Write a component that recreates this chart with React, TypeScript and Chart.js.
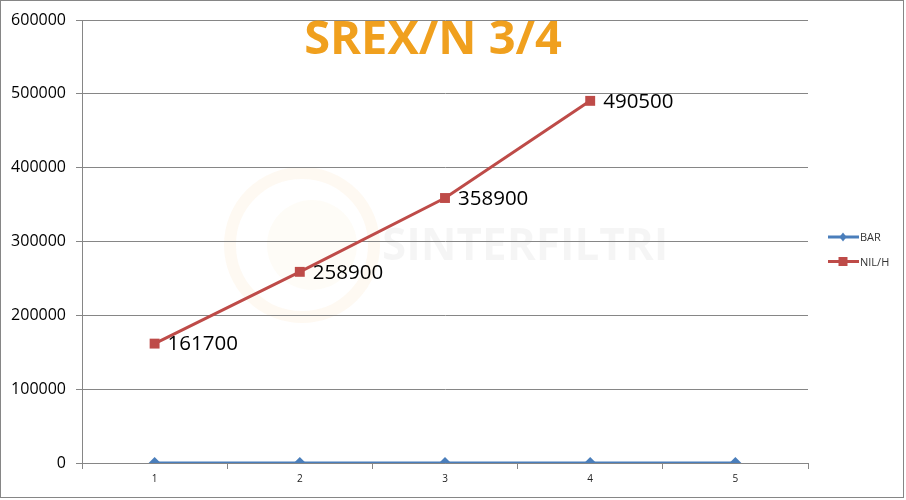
import React, { useEffect, useRef } from 'react';
import { Chart, registerables } from 'chart.js';

Chart.register(...registerables);

const categories = ['1', '2', '3', '4', '5'];
const barValues = [0, 0, 0, 0, 0];
const nilhValues: (number | null)[] = [161700, 258900, 358900, 490500, null];
const seriesNames = ['BAR', 'NIL/H'];
const chartTitle = 'SREX/N 3/4';
const watermarkText = 'SINTERFILTRI';
const yMin = 0;
const yMax = 600000;
const yStep = 100000;

const BLUE = '#4A7EBB';
const RED = '#BE4B48';
const GRID = '#868686';
const FONT = '"Open Sans", "DejaVu Sans", sans-serif';

const overlayPlugin = {
  id: 'overlay',
  beforeDraw(chart: any) {
    const { ctx, chartArea } = chart;
    ctx.save();
    ctx.fillStyle = '#ffffff';
    ctx.fillRect(0, 0, chart.width, chart.height);
    // faint watermark
    const cx = chartArea.left + 220;
    const cy = chartArea.top + 225;
    ctx.strokeStyle = 'rgba(240,160,30,0.06)';
    ctx.lineWidth = 12;
    ctx.beginPath();
    ctx.arc(cx, cy, 72, 0, Math.PI * 2);
    ctx.stroke();
    ctx.fillStyle = 'rgba(240,160,30,0.035)';
    ctx.beginPath();
    ctx.arc(cx + 10, cy, 45, 0, Math.PI * 2);
    ctx.fill();
    ctx.fillStyle = 'rgba(0,0,0,0.04)';
    ctx.font = `bold 44px ${FONT}`;
    ctx.textAlign = 'left';
    ctx.textBaseline = 'middle';
    ctx.fillText(watermarkText, cx + 80, cy + 2);
    ctx.restore();
  },
  afterDatasetsDraw(chart: any) {
    const { ctx, chartArea } = chart;
    ctx.save();
    // data labels for NIL/H
    const meta = chart.getDatasetMeta(1);
    ctx.fillStyle = '#000000';
    ctx.font = `20.5px ${FONT}`;
    ctx.textAlign = 'left';
    ctx.textBaseline = 'middle';
    meta.data.forEach((pt: any, i: number) => {
      const v = nilhValues[i];
      if (v == null) return;
      ctx.fillText(String(v), pt.x + 13, pt.y + 1);
    });
    // title
    ctx.fillStyle = '#F0A01E';
    ctx.font = `bold 47px ${FONT}`;
    ctx.textAlign = 'center';
    ctx.textBaseline = 'middle';
    ctx.fillText(chartTitle, (chartArea.left + chartArea.right) / 2 - 12, 41);
    // legend
    const colors = [BLUE, RED];
    seriesNames.forEach((name, i) => {
      const y = chart.height / 2 - 13 + i * 24.5;
      const x0 = chartArea.right + 20;
      ctx.strokeStyle = colors[i];
      ctx.lineWidth = 3;
      ctx.beginPath();
      ctx.moveTo(x0, y);
      ctx.lineTo(x0 + 31, y);
      ctx.stroke();
      ctx.fillStyle = colors[i];
      const mx = x0 + 15;
      ctx.beginPath();
      if (i === 0) {
        ctx.moveTo(mx, y - 4.5);
        ctx.lineTo(mx + 3.5, y);
        ctx.lineTo(mx, y + 4.5);
        ctx.lineTo(mx - 3.5, y);
        ctx.closePath();
      } else {
        ctx.rect(mx - 4.5, y - 4.5, 9, 9);
      }
      ctx.fill();
      ctx.fillStyle = '#333333';
      ctx.font = `11px ${FONT}`;
      ctx.textAlign = 'left';
      ctx.textBaseline = 'middle';
      ctx.fillText(name, x0 + 32, y + 1);
    });
    // outer border
    ctx.strokeStyle = GRID;
    ctx.lineWidth = 1;
    ctx.strokeRect(0.5, 0.5, 903, 497);
    ctx.restore();
  },
};

export default function App() {
  const ref = useRef<HTMLCanvasElement | null>(null);

  useEffect(() => {
    document.body.style.margin = '0';
    if (!ref.current) return;
    const chart = new Chart(ref.current, {
      type: 'line',
      data: {
        labels: categories,
        datasets: [
          {
            label: seriesNames[0],
            data: barValues,
            borderColor: BLUE,
            backgroundColor: BLUE,
            borderWidth: 3,
            pointStyle: 'rectRot',
            pointRadius: 6,
            pointBorderWidth: 0,
            tension: 0,
          },
          {
            label: seriesNames[1],
            data: nilhValues,
            borderColor: RED,
            backgroundColor: RED,
            borderWidth: 3,
            pointStyle: 'rect',
            pointRadius: 7,
            pointBorderWidth: 0,
            tension: 0,
          },
        ],
      },
      options: {
        responsive: false,
        animation: false,
        devicePixelRatio: 1,
        layout: { padding: { top: 20, right: 98, left: 0, bottom: 0 } },
        plugins: {
          legend: { display: false },
          title: { display: false },
          tooltip: { enabled: false },
        },
        scales: {
          x: {
            type: 'category',
            offset: true,
            grid: {
              offset: true,
              drawOnChartArea: false,
              drawTicks: true,
              tickLength: 6,
              color: GRID,
            },
            border: { display: true, color: GRID, width: 1 },
            ticks: {
              color: '#222',
              font: { family: FONT, size: 10 },
              padding: 4,
              maxRotation: 0,
            },
            afterFit(scale: any) {
              scale.height = 37;
            },
          },
          y: {
            min: yMin,
            max: yMax,
            grid: {
              color: GRID,
              drawTicks: true,
              tickLength: 6,
            },
            border: { display: true, color: GRID, width: 1 },
            ticks: {
              stepSize: yStep,
              color: '#000',
              font: { family: FONT, size: 16 },
              padding: 10,
              callback: (v: any) => String(v),
            },
            afterFit(scale: any) {
              scale.width = 82;
            },
          },
        },
      },
      plugins: [overlayPlugin],
    });
    return () => chart.destroy();
  }, []);

  return (
    <div style={{ position: 'absolute', left: 0, top: 0, width: 906, height: 500 }}>
      <canvas ref={ref} width={906} height={500} style={{ width: 906, height: 500 }} />
    </div>
  );
}
